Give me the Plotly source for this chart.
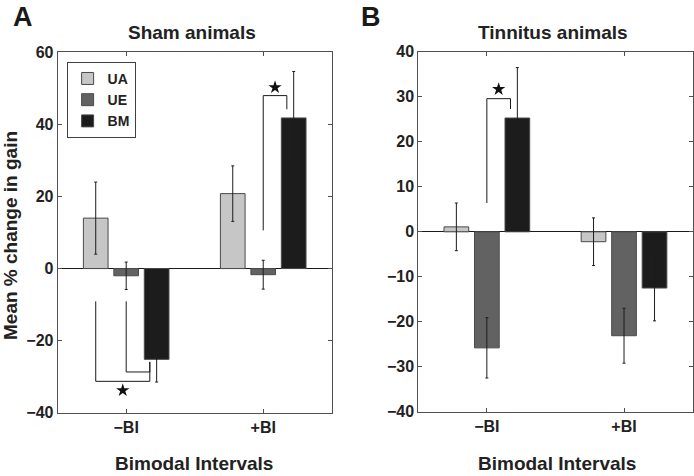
import plotly.graph_objects as go

# ---------------- data ----------------
categories = ['\u2212BI', '+BI']
cat_x = [1, 2]
series_names = ['UA', 'UE', 'BM']
series_colors = ['#c6c6c6', '#626262', '#1c1c1c']

sham_UA = [14.0, 20.8]
sham_UA_err = [10.0, 7.7]
sham_UE = [-2.0, -1.7]
sham_UE_err = [3.8, 4.0]
sham_BM = [-25.2, 41.8]
sham_BM_err = [6.3, 12.9]

tin_UA = [1.1, -2.2]
tin_UA_err = [5.3, 5.3]
tin_UE = [-25.8, -23.1]
tin_UE_err = [6.7, 6.1]
tin_BM = [25.3, -12.5]
tin_BM_err = [11.2, 7.3]

sham_yticks = [-40, -20, 0, 20, 40, 60]
tin_yticks = [-40, -30, -20, -10, 0, 10, 20, 30, 40]

# significance brackets: (category idx, from series, to series, start y, bar y, end y)
sham_brackets = [(0, 0, 2, -9.1, -31.3, -25.9),
                 (0, 1, 2, -9.1, -28.7, -25.9),
                 (1, 1, 2, 10.6, 48.0, 44.2)]
sham_stars = [(0, -33.8), (1, 50.3)]
tin_brackets = [(0, 1, 2, 6.4, 29.6, 27.3)]
tin_stars = [(0, 31.7)]

# ---------------- style ----------------
FONT = 'Liberation Sans, Arial, sans-serif'
BARGAP = 0.333
SLOT = (1 - BARGAP) / 3
END_INSET = 0.05
AXCOL = '#505050'

fig = go.Figure()

panels = [
    ('x', 'y', [sham_UA, sham_UE, sham_BM], [sham_UA_err, sham_UE_err, sham_BM_err],
     sham_brackets, sham_stars, True),
    ('x2', 'y2', [tin_UA, tin_UE, tin_BM], [tin_UA_err, tin_UE_err, tin_BM_err],
     tin_brackets, tin_stars, False),
]

for xa, ya, vals, errs, brackets, stars, show_leg in panels:
    for i, name in enumerate(series_names):
        fig.add_trace(go.Bar(
            x=cat_x, y=vals[i], name=name, xaxis=xa, yaxis=ya,
            marker=dict(color=series_colors[i], line=dict(color='#4a4a4a', width=1)),
            error_y=dict(type='data', array=errs[i], visible=True,
                         color='#1c1c1c', thickness=1, width=1.5),
            showlegend=show_leg, legendgroup=name,
        ))
    def bar_center(ci, si):
        return cat_x[ci] + (si - 1) * SLOT
    for ci, s_from, s_to, y0, ybar, y1 in brackets:
        xs = [bar_center(ci, s_from), bar_center(ci, s_from),
              bar_center(ci, s_to) - END_INSET, bar_center(ci, s_to) - END_INSET]
        fig.add_trace(go.Scatter(
            x=xs, y=[y0, ybar, ybar, y1], mode='lines', xaxis=xa, yaxis=ya,
            line=dict(color='#1a1a1a', width=1), showlegend=False, hoverinfo='skip'))
    sx, sy = [], []
    for ci, yv in stars:
        outer = [b for b in brackets if b[0] == ci]
        s_from = min(b[1] for b in outer)
        s_to = outer[0][2]
        sx.append((bar_center(ci, s_from) + bar_center(ci, s_to) - END_INSET) / 2)
        sy.append(yv)
    fig.add_trace(go.Scatter(
        x=sx, y=sy, mode='markers', xaxis=xa, yaxis=ya,
        marker=dict(symbol='star', size=10, color='#111111'),
        showlegend=False, hoverinfo='skip'))

tickfont = dict(family=FONT, size=16, color='#222222', weight='bold')

xcommon = dict(range=[0.5, 2.5], tickvals=cat_x, ticktext=categories,
               showline=True, linecolor=AXCOL, linewidth=1, mirror='ticks',
               ticks='inside', ticklen=4, tickcolor=AXCOL, showgrid=False,
               zeroline=False, tickfont=tickfont, fixedrange=True,
               automargin=False)
ycommon = dict(showline=True, linecolor=AXCOL, linewidth=1, mirror='ticks',
               ticks='inside', ticklen=4, tickcolor=AXCOL, showgrid=False,
               zeroline=True, zerolinecolor='#1a1a1a', zerolinewidth=1.2,
               tickfont=tickfont, fixedrange=True, automargin=False)

fig.update_layout(
    width=694, height=476,
    margin=dict(l=0, r=0, t=0, b=0, autoexpand=False),
    paper_bgcolor='white', plot_bgcolor='white',
    barmode='group', bargap=BARGAP, bargroupgap=0.19,
    font=dict(family=FONT, color='#222222'),
    xaxis=dict(domain=[0.0831, 0.478], anchor='y', **xcommon),
    yaxis=dict(domain=[0.133, 0.890], anchor='x', range=[-40, 60],
               tickvals=sham_yticks, **ycommon),
    xaxis2=dict(domain=[0.6027, 0.998], anchor='y2', **xcommon),
    yaxis2=dict(domain=[0.135, 0.891], anchor='x2', range=[-40, 40],
                tickvals=tin_yticks, **ycommon),
    legend=dict(x=0.096, y=0.870, xanchor='left', yanchor='top',
                bordercolor='#404040', borderwidth=1, bgcolor='white',
                font=dict(family=FONT, size=14, color='#222222', weight='bold'),
                tracegroupgap=0, itemwidth=30),
    showlegend=True,
)

title_font = dict(family=FONT, size=19, color='#222222', weight='bold')
annots = [
    dict(text='A', x=23, y=17, font=dict(family=FONT, size=27, color='#1a1a1a', weight='bold')),
    dict(text='B', x=371, y=17, font=dict(family=FONT, size=27, color='#1a1a1a', weight='bold')),
    dict(text='Sham animals', x=192, y=33, font=title_font),
    dict(text='Tinnitus animals', x=553, y=33, font=title_font),
    dict(text='Bimodal Intervals', x=194, y=463, font=title_font),
    dict(text='Bimodal Intervals', x=557, y=463, font=title_font),
    dict(text='Mean % change in gain', x=10, y=236, font=title_font, textangle=-90),
]
for a in annots:
    fig.add_annotation(text=a['text'], x=a['x'] / 694, y=1 - a['y'] / 476,
                       xref='paper', yref='paper', showarrow=False,
                       xanchor='center', yanchor='middle', font=a['font'],
                       textangle=a.get('textangle', 0))

fig.write_html('out.html', config={'displayModeBar': False},
               post_script="document.body.style.margin='0';document.body.style.overflow='hidden';")
